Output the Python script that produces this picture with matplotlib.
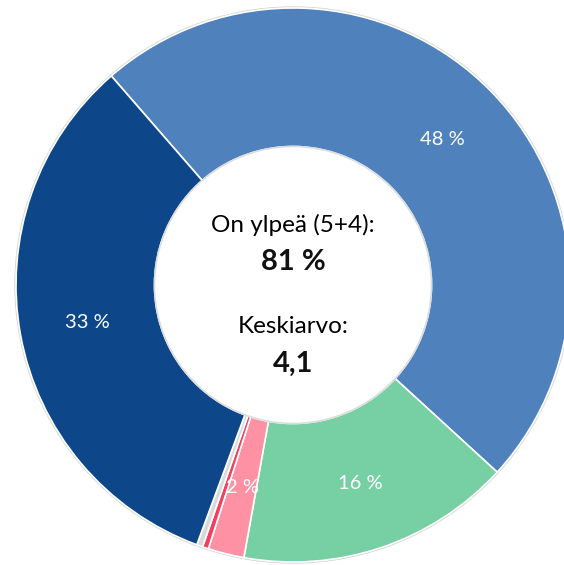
import matplotlib
matplotlib.use("Agg")
import matplotlib.pyplot as plt
from matplotlib.patches import Circle
import numpy as np

# Data (clockwise from the upper-left boundary)
categories = ["4", "3", "2", "1", "En osaa sanoa", "5"]
values = [48.1, 16.0, 2.1, 0.35, 0.35, 32.9]
labels = ["48 %", "16 %", "2 %", "", "", "33 %"]
colors = ["#4F81BD", "#77CFA4", "#FF91A4", "#F2405E", "#D9D9D9", "#0D4789"]

center_title1 = "On ylpeä (5+4):"
center_value1 = "81 %"
center_title2 = "Keskiarvo:"
center_value2 = "4,1"

plt.rcParams['font.family'] = ['Lato', 'DejaVu Sans']

fig = plt.figure(figsize=(5.64, 5.65), dpi=100)
ax = fig.add_axes([0, 0, 1, 1])
ax.axis('off')

# faint shadow outline
ax.add_patch(Circle((0, 0), 1.006, facecolor='#d6d6d6', edgecolor='none', zorder=0))

wedges, _ = ax.pie(values, colors=colors, startangle=131, counterclock=False,
                   radius=1.0, wedgeprops=dict(width=0.5, edgecolor='white', linewidth=1.2),
                   normalize=True)
ax.set_xlim(-293/277, 271/277)
ax.set_ylim((285-565)/277, 285/277)
ax.set_aspect('auto')

for w, lab in zip(wedges, labels):
    if not lab:
        continue
    ang = np.deg2rad((w.theta1 + w.theta2) / 2)
    r = 0.755
    ax.text(r*np.cos(ang), r*np.sin(ang), lab, color='white', fontsize=14.5,
            ha='center', va='center')

ax.add_patch(Circle((0, 0), 0.503, facecolor='#dcdcdc', edgecolor='none', zorder=1.5))
ax.add_patch(Circle((0, 0), 0.497, facecolor='white', edgecolor='none', zorder=1.6))

ax.text(0, 0.191, center_title1, ha='center', va='baseline', fontsize=17.5, color='black', zorder=3)
ax.text(0, 0.054, center_value1, ha='center', va='baseline', fontsize=21, color='#111111',
        fontweight='bold', zorder=3)
ax.text(0, -0.173, center_title2, ha='center', va='baseline', fontsize=17.5, color='black', zorder=3)
ax.text(0, -0.314, center_value2, ha='center', va='baseline', fontsize=21, color='#111111',
        fontweight='bold', zorder=3)

fig.savefig("out.png", dpi=100)
